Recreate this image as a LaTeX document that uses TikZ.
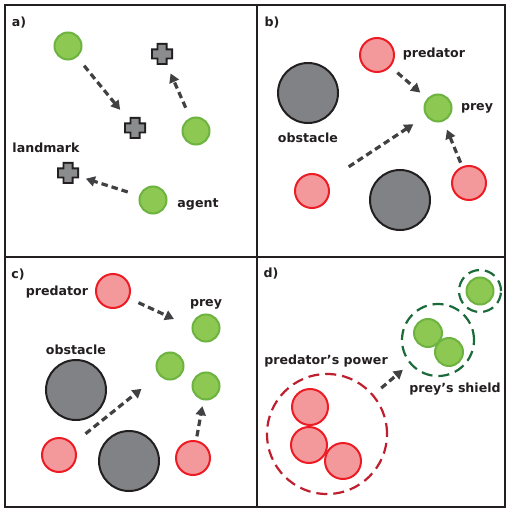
\documentclass[tikz,border=0pt]{standalone}
\usepackage{fontspec}
\setmainfont{DejaVu Sans}
\usetikzlibrary{arrows.meta}
\definecolor{ink}{HTML}{231F20}
\definecolor{arrowgray}{HTML}{414042}
\definecolor{gfill}{HTML}{8DC853}
\definecolor{gline}{HTML}{6DB33F}
\definecolor{rfill}{HTML}{F4999B}
\definecolor{rline}{HTML}{ED1C24}
\definecolor{ofill}{HTML}{808285}
\definecolor{lfill}{HTML}{8A8C8E}
\definecolor{dred}{HTML}{BE1E2D}
\definecolor{dgreen}{HTML}{1B6B3A}
\tikzset{
  agentnode/.style={circle,fill=gfill,draw=gline,line width=2pt,minimum size=27pt,inner sep=0pt},
  prednode/.style={circle,fill=rfill,draw=rline,line width=2pt,minimum size=34pt,inner sep=0pt},
  obsnode/.style={circle,fill=ofill,draw=ink,line width=2pt,minimum size=60pt,inner sep=0pt},
  marknode/.style={rectangle,minimum size=22pt,inner sep=0pt,
    path picture={\fill[ink] ([xshift=-11pt,yshift=-5.5pt]path picture bounding box.center) -- ++(0,11pt) -- ++(5.5pt,0) -- ++(0,5.5pt) -- ++(11pt,0) -- ++(0,-5.5pt) -- ++(5.5pt,0) -- ++(0,-11pt) -- ++(-5.5pt,0) -- ++(0,-5.5pt) -- ++(-11pt,0) -- ++(0,5.5pt) -- cycle;
      \fill[lfill] ([xshift=-9pt,yshift=-3.6pt]path picture bounding box.center) -- ++(0,7.2pt) -- ++(5.4pt,0) -- ++(0,5.4pt) -- ++(7.2pt,0) -- ++(0,-5.4pt) -- ++(5.4pt,0) -- ++(0,-7.2pt) -- ++(-5.4pt,0) -- ++(0,-5.4pt) -- ++(-7.2pt,0) -- ++(0,5.4pt) -- cycle;}},
  lbl/.style={font=\bfseries\fontsize{12.6}{14}\selectfont,text=ink,inner sep=0pt},
  arr/.style={draw=arrowgray,line width=3.2pt,dash pattern=on 6.5pt off 4pt,
    -{Triangle[length=9pt,width=10pt]}},
  zone/.style={circle,line width=2.2pt,dash pattern=on 11pt off 6pt,inner sep=0pt},
  frame/.style={draw=ink,line width=2pt}
}
\begin{document}
\begin{tikzpicture}[x=1pt,y=-1pt]
\useasboundingbox (0,0) rectangle (507,510);
\fill[white] (0,0) rectangle (507,510);
% frame
\draw[frame] (5,5) rectangle (505,507);
\draw[frame] (257,5) -- (257,507);
\draw[frame] (5,257) -- (505,257);

% ---------- panel a ----------
\node[lbl] (la) at (19,23) {a)};
\node[agentnode] (a1) at (68,46) {};
\node[agentnode] (a2) at (196,131) {};
\node[agentnode] (a3) at (153,200) {};
\node[marknode] (m1) at (162,54) {};
\node[marknode] (m2) at (135,128) {};
\node[marknode] (m3) at (68,173) {};
\node[lbl] (tland) at (46,148) {landmark};
\node[lbl] (tagent) at (198,204) {agent};
\draw[arr,shorten <=11pt,shorten >=9pt] (a1) -- (m2);
\draw[arr,shorten <=11pt,shorten >=9pt] (a2) -- (m1);
\draw[arr,shorten <=12pt,shorten >=7pt] (a3) -- (m3);

% ---------- panel b ----------
\node[lbl] (lb) at (272,23) {b)};
\node[obsnode] (bo1) at (308,93) {};
\node[obsnode] (bo2) at (400,200) {};
\node[prednode] (bp1) at (377,55) {};
\node[prednode] (bp2) at (312,191) {};
\node[prednode] (bp3) at (469,183) {};
\node[agentnode] (bg) at (438,108) {};
\node[lbl] (tbpred) at (434,54) {predator};
\node[lbl] (tbprey) at (477,108) {prey};
\node[lbl] (tbobs) at (308,138) {obstacle};
\draw[arr,shorten <=9pt,shorten >=9pt] (bp1) -- (bg);
\draw[arr,shorten <=26pt,shorten >=15pt] (bp2) -- (bg);
\draw[arr,shorten <=4pt,shorten >=9pt] (bp3) -- (bg);

% ---------- panel c ----------
\node[lbl] (lc) at (18,275) {c)};
\node[obsnode] (co1) at (76,390) {};
\node[obsnode] (co2) at (129,461) {};
\node[prednode] (cp1) at (113,291) {};
\node[prednode] (cp2) at (59,455) {};
\node[prednode] (cp3) at (193,458) {};
\node[agentnode] (cg1) at (206,328) {};
\node[agentnode] (cg2) at (170,366) {};
\node[agentnode] (cg3) at (206,386) {};
\node[lbl] (tcpred) at (57,292) {predator};
\node[lbl] (tcprey) at (206,304) {prey};
\node[lbl] (tcobs) at (76,350) {obstacle};
\coordinate (ctarget) at (174,319);
\draw[arr,shorten <=10pt] (cp1) -- (ctarget);
\draw[arr,shorten <=16pt,shorten >=22pt] (cp2) -- (cg2);
\draw[arr,shorten <=4pt,shorten >=6pt] (cp3) -- (cg3);

% ---------- panel d ----------
\node[lbl] (ld) at (271,274) {d)};
\node[zone,draw=dred,minimum size=120pt] (dpow) at (327,434) {};
\node[prednode,minimum size=36pt] (dp1) at (310,407) {};
\node[prednode,minimum size=36pt] (dp2) at (309,445) {};
\node[prednode,minimum size=36pt] (dp3) at (343,461) {};
\node[zone,draw=dgreen,minimum size=72pt] (dshield) at (438,340) {};
\node[agentnode,minimum size=28pt] (dg1) at (428,333) {};
\node[agentnode,minimum size=28pt] (dg2) at (449,352) {};
\node[zone,draw=dgreen,minimum size=42pt] (dshield2) at (480,291) {};
\node[agentnode,minimum size=27pt] (dg3) at (480,291) {};
\node[lbl] (tpow) at (326,361) {predator’s power};
\node[lbl] (tshield) at (455,389) {prey’s shield};
\draw[arr,shorten <=10pt,shorten >=9pt] (dpow) -- (dshield);
\end{tikzpicture}
\end{document}
